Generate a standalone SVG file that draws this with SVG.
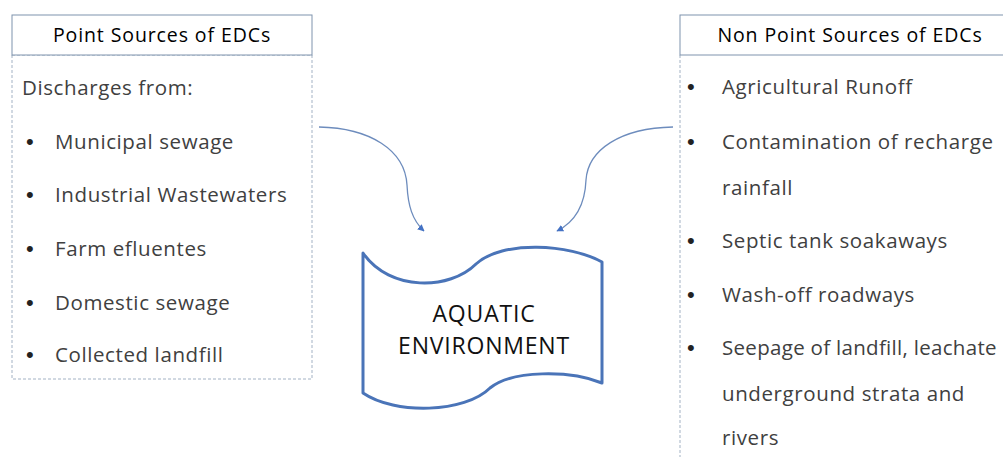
<svg xmlns="http://www.w3.org/2000/svg" width="1003" height="457" viewBox="0 0 1003 457">
<style>
.hdr{fill:#fff;stroke:#7f93ad;stroke-width:1}
.dash{fill:none;stroke:#a3b2c4;stroke-width:1;stroke-dasharray:3 2}
.t{font-family:"Open Sans","Liberation Sans",sans-serif;font-size:20.5px;letter-spacing:0.6px;fill:#404040}
.bu{font-family:"Liberation Sans",sans-serif;font-size:22px;fill:#222}
.h{font-family:"Open Sans","Liberation Sans",sans-serif;font-size:19.5px;letter-spacing:0.9px;fill:#000}
.b{font-family:"Open Sans","Liberation Sans",sans-serif;font-size:23px;letter-spacing:0.8px;fill:#111;text-anchor:middle}
.conn{fill:none;stroke:#6d8cbd;stroke-width:1.3}
</style>
<defs>
<marker id="ah" viewBox="0 0 10 10" refX="9" refY="5" markerWidth="7" markerHeight="7" orient="auto" markerUnits="userSpaceOnUse">
<path d="M0,0 L10,5 L0,10 Z" fill="#4472c4"/>
</marker>
</defs>
<rect width="1003" height="457" fill="#fff"/>
<g id="point-sources">
<rect class="dash" x="12" y="55" width="300" height="324"/>
<rect class="hdr" x="12" y="15" width="300" height="40"/>
<text class="h" x="162" y="42" text-anchor="middle">Point Sources of EDCs</text>
<text class="t" x="22" y="95">Discharges from:</text>
<g class="bu">
<text x="26" y="149">•</text><text x="26" y="202">•</text><text x="26" y="256">•</text><text x="26" y="310">•</text><text x="26" y="362">•</text>
</g>
<g class="t">
<text x="55" y="149">Municipal  sewage</text>
<text x="55" y="202">Industrial  Wastewaters</text>
<text x="55" y="256">Farm  efluentes</text>
<text x="55" y="310">Domestic  sewage</text>
<text x="55" y="362">Collected landfill</text>
</g>
</g>
<g id="non-point-sources">
<line class="dash" x1="680" y1="55" x2="680" y2="457"/>
<rect class="hdr" x="680" y="15" width="330" height="40"/>
<text class="h" x="850" y="42" text-anchor="middle">Non Point Sources of EDCs</text>
<g class="bu">
<text x="687" y="94">•</text><text x="687" y="149">•</text><text x="687" y="248">•</text><text x="687" y="302">•</text><text x="687" y="355">•</text>
</g>
<g class="t">
<text x="722" y="94">Agricultural  Runoff</text>
<text x="722" y="149">Contamination of recharge</text>
<text x="722" y="195">rainfall</text>
<text x="722" y="248">Septic tank soakaways</text>
<text x="722" y="302">Wash-off roadways</text>
<text x="722" y="355" style="letter-spacing:0.3px">Seepage of landfill, leachate</text>
<text x="722" y="401">underground  strata and</text>
<text x="722" y="445">rivers</text>
</g>
</g>
<g id="aquatic-environment">
<path d="M363,253 C390,292 450,290 476,264 C502,240 570,244 602,262 L602,383 C570,370 512,370 490,388 C465,413 395,415 363,393 Z" fill="#fff" stroke="#4a74b8" stroke-width="3" stroke-linejoin="round"/>
<text class="b" x="484" y="322">AQUATIC</text>
<text class="b" x="484" y="354">ENVIRONMENT</text>
</g>
<g id="connectors">
<path class="conn" d="M319,127 C370,128 405,150 407,185 C408,205 412,220 424,231" marker-end="url(#ah)"/>
<path class="conn" d="M673,127 C620,128 588,150 586,180 C585,205 575,222 557,231" marker-end="url(#ah)"/>
</g>
</svg>
